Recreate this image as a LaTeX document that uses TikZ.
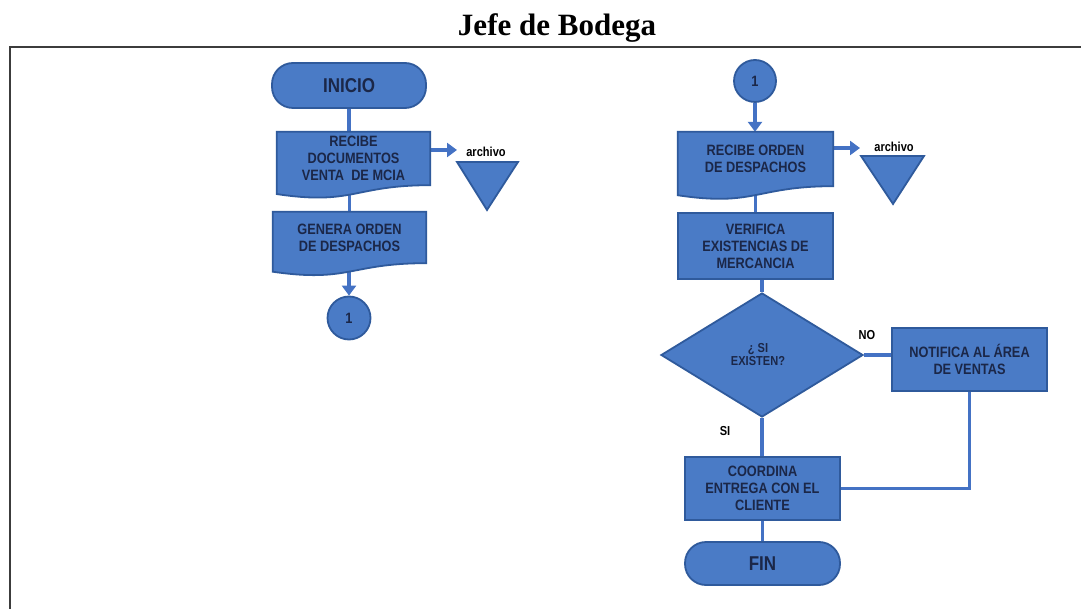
\documentclass[tikz,border=0pt]{standalone}
\usepackage{fontspec}
\setmainfont{Liberation Serif}
\newfontfamily\cfont[FakeStretch=0.85]{Liberation Sans}
\usetikzlibrary{arrows.meta,shapes.geometric,calc}
\definecolor{fillblue}{HTML}{4A7BC6}
\definecolor{edgeblue}{HTML}{2F5A9C}
\definecolor{lineblue}{HTML}{4472C4}
\definecolor{txtblue}{HTML}{1B2748}
\definecolor{framegray}{HTML}{3C3C3C}
\pgfdeclarelayer{bglayer}
\pgfdeclarelayer{connlayer}
\pgfdeclarelayer{shapelayer}
\pgfsetlayers{bglayer,connlayer,shapelayer,main}
\newcommand\docshape[2]{%
  \path[docfill] (#1.north west) -- (#1.north east) -- (#1.south east)
    .. controls (#1.south) and ($(#1.south)+(0,0.384*#2)$) ..
    ($(#1.south west)+(0,0.1675*#2)$) -- cycle;}
\tikzset{
  boxfont/.style={font=\cfont\bfseries\fontsize{15}{17}\selectfont},
  procbox/.style={rectangle, draw=edgeblue, line width=1.8pt, fill=fillblue,
    text=txtblue, boxfont, align=center, inner sep=0pt},
  termbox/.style={procbox, rounded corners=21pt,
    font=\cfont\bfseries\fontsize{20}{22}\selectfont},
  docnode/.style={rectangle, text=txtblue, boxfont, align=center, inner sep=0pt},
  docfill/.style={draw=edgeblue, line width=1.8pt, fill=fillblue},
  conncircle/.style={circle, draw=edgeblue, line width=1.8pt, fill=fillblue,
    text=txtblue, font=\cfont\bfseries\fontsize{15}{17}\selectfont, inner sep=0pt,
    minimum size=43pt},
  filetri/.style={draw=edgeblue, line width=1.8pt, fill=fillblue},
  decision/.style={diamond, draw=edgeblue, line width=1.8pt, fill=fillblue,
    text=txtblue, font=\cfont\bfseries\fontsize{13}{13}\selectfont, align=center,
    inner sep=0pt},
  smalllabel/.style={text=black, font=\cfont\bfseries\fontsize{13}{15}\selectfont, inner sep=0pt},
  conn/.style={draw=lineblue, line width=3.5pt},
  arr/.style={conn, -{Triangle[length=10pt,width=14pt]}}
}
\begin{document}
\begin{tikzpicture}[x=1pt,y=-1pt]
\useasboundingbox (0,0) rectangle (1081,609);
\begin{pgfonlayer}{bglayer}
  \fill[white] (0,0) rectangle (1081,609);
\end{pgfonlayer}
% title and frame
\node[font=\bfseries\fontsize{31}{33}\selectfont] (title) at (557,28) {Jefe de Bodega};
\draw[framegray, line width=1.5pt] (10,609) -- (10,47) -- (1081,47);

% ---------- left column ----------
\node[termbox, minimum width=154pt, minimum height=45pt] (inicio) at (349,85.5) {INICIO};
\node[docnode, minimum width=153pt, minimum height=53pt] (d1) at (353.5,158.5)
  {RECIBE\\DOCUMENTOS\\VENTA \ DE MCIA};
\node[docnode, minimum width=153pt, minimum height=51pt] (d2) at (349.5,237.5)
  {GENERA ORDEN\\DE DESPACHOS};
\node[conncircle] (c1) at (349,318) {1};
\node[smalllabel] (arch1) at (486,152) {archivo};
\coordinate (a1) at (457,150);

% ---------- right column ----------
\node[conncircle, minimum size=42pt] (c2) at (755,81) {1};
\node[docnode, minimum width=155pt, minimum height=54pt] (d3) at (755.5,159)
  {RECIBE ORDEN\\DE DESPACHOS};
\coordinate (a2) at (860,148);
\node[smalllabel] (arch2) at (894,147) {archivo};
\node[procbox, minimum width=155pt, minimum height=66pt] (verif) at (755.5,246)
  {VERIFICA\\EXISTENCIAS DE\\MERCANCIA};
\node[decision, minimum width=202pt, minimum height=124pt] (dec) at (762,355) {};
\node[text=txtblue, font=\cfont\bfseries\fontsize{13}{13}\selectfont, align=center,
  inner sep=0pt] (dectext) at (758,355) {¿ SI\\EXISTEN?};
\node[procbox, minimum width=155pt, minimum height=63pt] (notif) at (969.5,359.5)
  {NOTIFICA AL ÁREA\\DE VENTAS};
\node[procbox, minimum width=155pt, minimum height=63pt] (coord) at (762.5,488.5)
  {COORDINA\\ENTREGA CON EL\\CLIENTE};
\node[termbox, minimum width=155pt, minimum height=43pt] (fin) at (762.5,563.5) {FIN};
\node[smalllabel] (nolab) at (867,335) {NO};
\node[smalllabel] (silab) at (725,431) {SI};

% ---------- shapes ----------
\begin{pgfonlayer}{shapelayer}
  \docshape{d1}{53}
  \docshape{d2}{51}
  \docshape{d3}{54}
  \path[filetri] (457,162) -- (518,162) -- (487,210) -- cycle;
  \path[filetri] (861,156) -- (924,156) -- (893,204) -- cycle;
\end{pgfonlayer}

% ---------- connectors ----------
\begin{pgfonlayer}{connlayer}
  \draw[conn] (inicio.south) -- (inicio.south |- d1.north);
  \draw[conn] (d1.south -| d2.north) -- (d2.north);
  \draw[arr] (d2.south -| c1.north) -- (c1.north);
  \draw[arr] ($(d1.east)+(0,-8.5)$) -- (a1);
  \draw[arr] (c2.south) -- (c2.south |- d3.north);
  \draw[arr] ($(d3.east)+(0,-11)$) -- (a2);
  \draw[conn] (d3.south -| verif.north) -- (verif.north);
  \draw[conn] (verif.south -| dec.north) -- (dec.north);
  \draw[conn] (dec.east) -- (dec.east -| notif.west);
  \draw[conn] (dec.south) -- (dec.south |- coord.north);
  \draw[conn] (notif.south) |- (coord.east);
  \draw[conn] (coord.south) -- (fin.north);
\end{pgfonlayer}
\end{tikzpicture}
\end{document}
